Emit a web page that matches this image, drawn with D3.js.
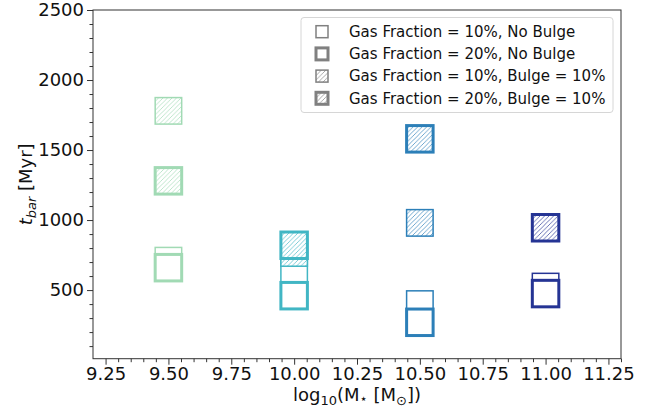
<!DOCTYPE html>
<html>
<head>
<meta charset="utf-8">
<script src="https://cdn.jsdelivr.net/npm/d3@7"></script>
<style>
  body { margin: 0; background: #fff; }
  svg { display: block; font-family: "DejaVu Sans", sans-serif; }
  .axis path, .axis line { stroke: #333; }
  .axis text { font-family: "DejaVu Sans", sans-serif; font-size: 18px; fill: #111; }
</style>
</head>
<body>
<svg width="660" height="412"></svg>
<script>
// --- Data ---
const masses = [9.5, 10.0, 10.5, 11.0];
const massColors = ["#a1dab4", "#41b6c4", "#2c7fb8", "#253494"];

const gas10NoBulge = [710, 620, 400, 525];
const gas20NoBulge = [660, 460, 270, 475];
const gas10Bulge   = [1780, 765, 980, null];
const gas20Bulge   = [1280, 820, 1580, 945];

const seriesNames = [
  "Gas Fraction = 10%, No Bulge",
  "Gas Fraction = 20%, No Bulge",
  "Gas Fraction = 10%, Bulge = 10%",
  "Gas Fraction = 20%, Bulge = 10%"
];

const xTicks = [9.25, 9.5, 9.75, 10.0, 10.25, 10.5, 10.75, 11.0, 11.25];
const yTicks = [500, 1000, 1500, 2000, 2500];

// --- Layout ---
const LEFT = 93, RIGHT = 621, TOP = 10, BOTTOM = 358.7;
const MARKER = 26.5;
const THIN = 1.5, THICK = 3;

const series = [
  { values: gas10NoBulge, lw: THIN,  hatch: false },
  { values: gas20NoBulge, lw: THICK, hatch: false },
  { values: gas10Bulge,   lw: THIN,  hatch: true },
  { values: gas20Bulge,   lw: THICK, hatch: true }
];

const svg = d3.select("svg");
const x = d3.scaleLinear().domain([9.2, 11.3]).range([LEFT, RIGHT]);
const y = d3.scaleLinear().domain([10, 2500]).range([BOTTOM, TOP]);

// hatch patterns, one per colour (plus grey for the legend)
const defs = svg.append("defs");
function addHatch(id, color) {
  const p = defs.append("pattern")
    .attr("id", id)
    .attr("patternUnits", "userSpaceOnUse")
    .attr("width", 4.5).attr("height", 4.5);
  p.append("rect").attr("width", 4.5).attr("height", 4.5).attr("fill", "#fff");
  p.append("path")
    .attr("d", "M-1,1 L1,-1 M0,4.5 L4.5,0 M3.5,5.5 L5.5,3.5")
    .attr("stroke", color).attr("stroke-width", 0.8).attr("stroke-opacity", 0.85);
}
massColors.forEach((c, i) => addHatch("hatch" + i, c));
addHatch("hatchLegend", "#808080");

// --- Axes ---
const xMinor = d3.range(9.25, 11.3, 0.05).filter(v => Math.abs(v * 4 - Math.round(v * 4)) > 1e-6);
const yMinor = d3.range(100, 2500, 100).filter(v => v % 500 !== 0);

svg.append("g").attr("class", "axis")
  .attr("transform", `translate(0,${BOTTOM})`)
  .call(d3.axisBottom(x).tickValues(xMinor).tickSize(3.5).tickFormat(""))
  .call(g => g.select(".domain").remove());
svg.append("g").attr("class", "axis")
  .attr("transform", `translate(0,${BOTTOM})`)
  .call(d3.axisBottom(x).tickValues(xTicks).tickSize(6).tickPadding(3).tickFormat(d3.format(".2f")))
  .call(g => g.select(".domain").remove());

svg.append("g").attr("class", "axis")
  .attr("transform", `translate(${LEFT},0)`)
  .call(d3.axisLeft(y).tickValues(yMinor).tickSize(3.5).tickFormat(""))
  .call(g => g.select(".domain").remove());
svg.append("g").attr("class", "axis")
  .attr("transform", `translate(${LEFT},0)`)
  .call(d3.axisLeft(y).tickValues(yTicks).tickSize(6).tickPadding(3).tickFormat(d3.format("d")))
  .call(g => g.select(".domain").remove());

// frame
svg.append("rect")
  .attr("x", LEFT).attr("y", TOP)
  .attr("width", RIGHT - LEFT).attr("height", BOTTOM - TOP)
  .attr("fill", "none").attr("stroke", "#333").attr("stroke-width", 1);

// --- Markers ---
series.forEach(s => {
  const pts = masses.map((m, i) => ({ m, v: s.values[i], i })).filter(d => d.v != null);
  svg.append("g").selectAll("rect")
    .data(pts)
    .join("rect")
    .attr("x", d => x(d.m) - MARKER / 2)
    .attr("y", d => y(d.v) - MARKER / 2)
    .attr("width", MARKER).attr("height", MARKER)
    .attr("fill", d => s.hatch ? `url(#hatch${d.i})` : "#fff")
    .attr("stroke", d => massColors[d.i])
    .attr("stroke-width", s.lw);
});

// --- Legend ---
const legend = svg.append("g");
legend.append("rect")
  .attr("x", 301).attr("y", 17.5).attr("width", 312).attr("height", 95)
  .attr("rx", 3)
  .attr("fill", "#fff").attr("fill-opacity", 0.8)
  .attr("stroke", "#d6d6d6").attr("stroke-width", 1);

const LM = 12;
series.forEach((s, i) => {
  const cy = 31.7 + i * 22.2;
  legend.append("rect")
    .attr("x", 322 - LM / 2).attr("y", cy - LM / 2)
    .attr("width", LM).attr("height", LM)
    .attr("fill", s.hatch ? "url(#hatchLegend)" : "#fff")
    .attr("stroke", "#808080")
    .attr("stroke-width", s.lw);
  legend.append("text")
    .attr("x", 349).attr("y", cy).attr("dy", "0.35em")
    .attr("font-size", 15).attr("fill", "#111")
    .text(seriesNames[i]);
});

// --- Axis labels ---
const xl = svg.append("text")
  .attr("x", (LEFT + RIGHT) / 2).attr("y", 401)
  .attr("text-anchor", "middle").attr("font-size", 18).attr("fill", "#111");
xl.append("tspan").text("log");
xl.append("tspan").attr("font-size", 13).attr("dy", 4).text("10");
xl.append("tspan").attr("dy", -4).text("(M");
xl.append("tspan").attr("font-size", 13).attr("dy", 2).text("⋆");
xl.append("tspan").attr("dy", -2).text(" [M");
xl.append("tspan").attr("font-size", 13).attr("dy", 4).text("⊙");
xl.append("tspan").attr("dy", -4).text("])");

const yl = svg.append("text")
  .attr("transform", `translate(32,${(TOP + BOTTOM) / 2}) rotate(-90)`)
  .attr("text-anchor", "middle").attr("font-size", 18).attr("fill", "#111");
yl.append("tspan").attr("font-style", "italic").text("t");
yl.append("tspan").attr("font-style", "italic").attr("font-size", 13).attr("dy", 4).text("bar");
yl.append("tspan").attr("dy", -4).text(" [Myr]");
</script>
</body>
</html>
